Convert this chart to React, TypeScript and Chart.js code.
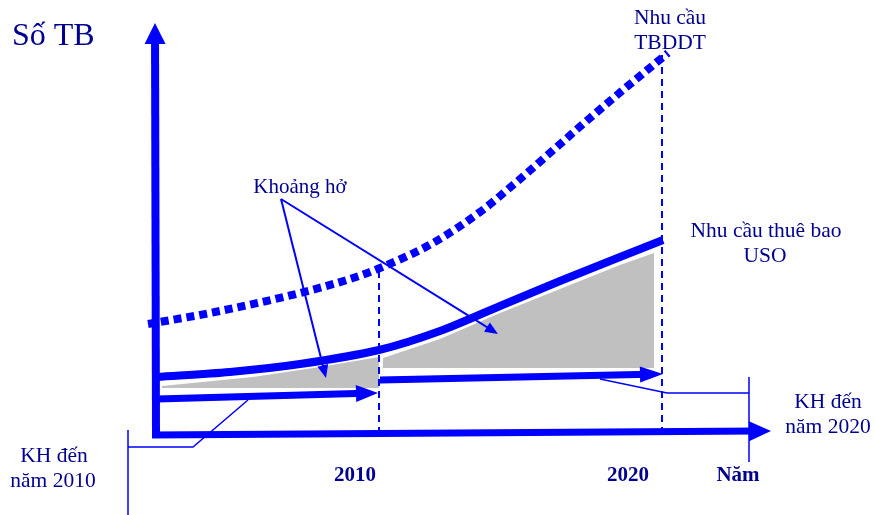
import React, { useEffect, useRef } from 'react';
import { Chart, registerables } from 'chart.js';
Chart.register(...registerables);

// Diagram space: linear scales spanning the picture (x to the right, y downward)
const demandTBDDT = [[148, 324], [210, 313], [300, 293], [353, 278], [380, 268], [433, 243], [480, 212], [513, 185], [590, 118], [623, 90], [668, 53]];
const demandUSO = [[157, 377], [230, 372], [300, 364], [379, 350], [440, 331], [500, 306], [560, 281], [620, 257], [663, 240]];
const gap2010 = [[162, 386], [253, 377], [320, 367], [379, 357], [379, 388], [162, 388]];
const gap2020 = [[383, 358], [440, 339], [500, 313], [560, 289], [620, 265], [654, 253], [654, 368], [383, 368]];
const plan2010 = [[157, 399], [378, 393]];
const plan2020 = [[380, 380], [663, 374]];
const yAxisLine = [[156, 437], [155, 23]];
const xAxisLine = [[152, 435], [771, 431]];
const guide2010 = [[379, 271], [379, 434]];
const guide2020 = [[662, 55], [662, 432]];
const gapPointerA = [[281, 199], [326, 378]];
const gapPointerB = [[281, 199], [498, 334]];
const callout2010Bar = [[128, 430], [128, 515]];
const callout2010Leg = [[128, 447], [193, 447], [248, 400]];
const callout2020Bar = [[749, 377], [749, 462]];
const callout2020Leg = [[749, 393], [667, 393], [600, 379]];

const labelTexts = ['Số TB', 'Nhu cầu', 'TBDDT', 'Khoảng hở', 'Nhu cầu thuê bao', 'USO', 'KH đến', 'năm 2020', 'KH đến', 'năm 2010', '2010', '2020', 'Năm'];
const labelPos = [[12, 45], [670, 24], [670, 49], [300, 193], [766, 237], [765, 262], [828, 408], [828, 433], [54, 462], [53, 487], [355, 481], [628, 481], [738, 481]];
const labelSize = [32, 21.5, 21.5, 21, 21.5, 21.5, 21.5, 21.5, 21.5, 21.5, 21, 21, 21];
const labelBold = [false, false, false, false, false, false, false, false, false, false, true, true, true];
const labelAlign = ['left', 'center', 'center', 'center', 'center', 'center', 'center', 'center', 'center', 'center', 'center', 'center', 'center'];

const BLUE = '#0000ff';
const GRAY = '#c0c0c0';
const NAVY = '#000090';

const toPts = (a: number[][]) => a.map(([x, y]) => ({ x, y }));

// pull the last point back along the segment so the shaft hides under the arrow head
const shortened = (a: number[][], back: number) => {
  const n = a.length;
  const [x1, y1] = a[n - 2];
  const [x2, y2] = a[n - 1];
  const d = Math.hypot(x2 - x1, y2 - y1) || 1;
  const out = a.slice(0, n - 1).map((p) => p.slice());
  out.push([x2 - ((x2 - x1) / d) * back, y2 - ((y2 - y1) / d) * back]);
  return toPts(out);
};

const arrowPlugin = {
  id: 'arrowHeads',
  afterDatasetsDraw(chart: any) {
    const ctx = chart.ctx;
    const xs = chart.scales.x;
    const ys = chart.scales.y;
    chart.data.datasets.forEach((ds: any) => {
      if (!ds.arrow) return;
      const src: number[][] = ds.arrow.src;
      const n = src.length;
      const ax = xs.getPixelForValue(src[n - 2][0]);
      const ay = ys.getPixelForValue(src[n - 2][1]);
      const bx = xs.getPixelForValue(src[n - 1][0]);
      const by = ys.getPixelForValue(src[n - 1][1]);
      const ang = Math.atan2(by - ay, bx - ax);
      const L = ds.arrow.len;
      const H = ds.arrow.half;
      ctx.save();
      ctx.translate(bx, by);
      ctx.rotate(ang);
      ctx.beginPath();
      ctx.moveTo(0, 0);
      ctx.lineTo(-L, -H);
      ctx.lineTo(-L, H);
      ctx.closePath();
      ctx.fillStyle = ds.borderColor;
      ctx.fill();
      ctx.restore();
    });
  },
};

const labelPlugin = {
  id: 'diagramLabels',
  afterDraw(chart: any) {
    const ctx = chart.ctx;
    const xs = chart.scales.x;
    const ys = chart.scales.y;
    ctx.save();
    ctx.fillStyle = NAVY;
    ctx.textBaseline = 'alphabetic';
    labelTexts.forEach((t, i) => {
      ctx.font = `${labelBold[i] ? 'bold ' : ''}${labelSize[i]}px "Liberation Serif", "Times New Roman", serif`;
      ctx.textAlign = labelAlign[i] as CanvasTextAlign;
      ctx.fillText(t, xs.getPixelForValue(labelPos[i][0]), ys.getPixelForValue(labelPos[i][1]));
    });
    ctx.restore();
  },
};

export default function App() {
  const ref = useRef<HTMLCanvasElement | null>(null);
  useEffect(() => {
    if (!ref.current) return;
    const line = (data: any, width: number, order: number, extra: any = {}) => ({
      data,
      borderColor: BLUE,
      backgroundColor: BLUE,
      borderWidth: width,
      pointRadius: 0,
      fill: false,
      tension: 0,
      clip: false,
      order,
      borderCapStyle: 'butt',
      ...extra,
    });
    const arrowLine = (src: number[][], width: number, len: number, half: number, order: number) =>
      line(shortened(src, len * 0.6), width, order, { arrow: { src, len, half } });

    const chart = new Chart(ref.current, {
      type: 'line',
      data: {
        datasets: [
          line(toPts(gap2010), 0, 20, { fill: 'shape', backgroundColor: GRAY, borderColor: GRAY }),
          line(toPts(gap2020), 0, 19, { fill: 'shape', backgroundColor: GRAY, borderColor: GRAY }),
          line(toPts(guide2010), 2, 15, { borderDash: [7, 5] }),
          line(toPts(guide2020), 2, 15, { borderDash: [7, 5] }),
          line(toPts(demandTBDDT), 8, 10, { borderDash: [8, 5], cubicInterpolationMode: 'monotone', tension: 0.4 }),
          line(toPts(demandUSO), 8, 10, { tension: 0.3 }),
          arrowLine(plan2010, 7, 22, 8.5, 9),
          arrowLine(plan2020, 7, 23, 8, 9),
          arrowLine(yAxisLine, 8, 21, 10.5, 8),
          arrowLine(xAxisLine, 7, 22, 10, 8),
          arrowLine(gapPointerA, 2, 13, 5.5, 5),
          arrowLine(gapPointerB, 2, 13, 5.5, 5),
          line(toPts(callout2010Bar), 1.5, 5),
          line(toPts(callout2010Leg), 1.5, 5),
          line(toPts(callout2020Bar), 1.5, 5),
          line(toPts(callout2020Leg), 1.5, 5),
        ] as any,
      },
      options: {
        animation: false,
        responsive: false,
        maintainAspectRatio: false,
        layout: { padding: 0 },
        parsing: false as any,
        normalized: true,
        scales: {
          x: { type: 'linear', min: 0, max: 876, display: false },
          y: { type: 'linear', min: 0, max: 515, reverse: true, display: false },
        },
        plugins: {
          legend: { display: false },
          tooltip: { enabled: false },
        },
        events: [],
      } as any,
      plugins: [arrowPlugin, labelPlugin],
    });
    return () => chart.destroy();
  }, []);

  return (
    <div style={{ position: 'fixed', left: 0, top: 0, width: 876, height: 515, background: '#fff' }}>
      <canvas ref={ref} width={876} height={515} style={{ width: 876, height: 515, display: 'block' }} />
    </div>
  );
}
